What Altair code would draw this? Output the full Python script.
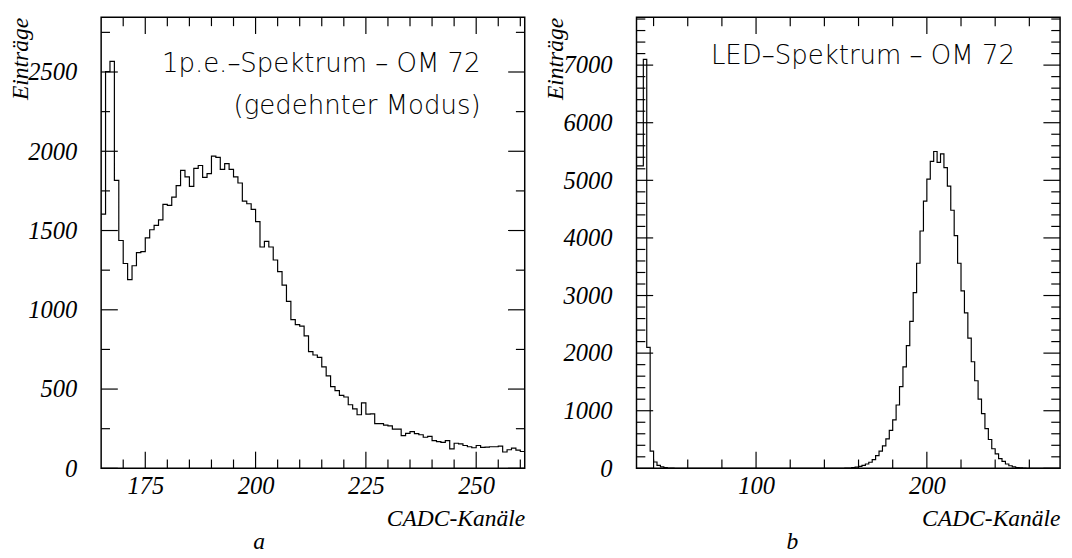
import altair as alt
import pandas as pd

# ---------------- data ----------------
left_start = 165
left_width = 1
left_counts = [1604, 2502, 2567, 1816, 1437, 1292, 1190, 1278, 1361, 1367,
               1454, 1505, 1533, 1567, 1665, 1659, 1711, 1783, 1880, 1839,
               1779, 1892, 1910, 1835, 1859, 1969, 1962, 1886, 1922, 1886,
               1839, 1800, 1685, 1669, 1634, 1556, 1396, 1432, 1396, 1314,
               1241, 1156, 1053, 938, 907, 897, 835, 736, 715, 700,
               640, 583, 515, 490, 460, 450, 401, 375, 338, 413,
               342, 344, 282, 282, 272, 268, 247, 247, 206, 221,
               231, 219, 212, 196, 202, 175, 168, 164, 175, 123,
               158, 154, 144, 136, 130, 144, 132, 134, 136, 136,
               140, 103, 117, 128, 115, 106]

right_start = 30
right_width = 2
right_counts = [5250, 5250, 7100, 2100, 300, 110, 50, 25, 12, 6, 3,
                0, 0, 0, 0, 0, 0, 0, 0, 0, 0,
                0, 0, 0, 0, 0, 0, 0, 0, 0, 0,
                0, 0, 0, 0, 0, 0, 0, 0, 0, 0,
                0, 0, 0, 0, 0, 0, 0, 0, 0, 0,
                0, 0, 0, 0, 0, 0, 0, 0, 0,
                2, 3, 6, 12, 22, 35, 50, 75, 105, 150,
                220, 300, 390, 510, 660, 840, 1100, 1420, 1760, 2130,
                2550, 3050, 3560, 4120, 4640, 5020, 5330, 5500, 5310, 5460,
                5220, 4900, 4480, 4040, 3560, 3080, 2700, 2260, 1850, 1520,
                1200, 950, 690, 500, 340, 250, 170, 120, 75, 45,
                25, 14, 7, 3, 1,
                0, 0, 0, 0, 0, 0, 0, 0, 0]

left_x_domain = [165, 261]
left_y_domain = [0, 2845]
right_x_domain = [30, 278]
right_y_domain = [0, 7830]

left_x_labels = [175, 200, 225, 250]
left_x_minor = [170, 180, 185, 190, 195, 205, 210, 215, 220, 230, 235, 240, 245, 255, 260]
left_y_labels = [0, 500, 1000, 1500, 2000, 2500]
left_y_minor = [250, 750, 1250, 1750, 2250, 2750]

right_x_labels = [100, 200]
right_x_minor = [40, 60, 80, 120, 140, 160, 180, 220, 240, 260]
right_y_labels = [0, 1000, 2000, 3000, 4000, 5000, 6000, 7000]
right_y_minor = [200, 400, 600, 800, 1200, 1400, 1600, 1800, 2200, 2400, 2600, 2800,
                 3200, 3400, 3600, 3800, 4200, 4400, 4600, 4800, 5200, 5400, 5600, 5800,
                 6200, 6400, 6600, 6800, 7200, 7400, 7600, 7800]

left_text = ["1p.e.\u2013Spektrum \u2013 OM 72", "(gedehnter Modus)"]
right_text = ["LED\u2013Spektrum \u2013 OM 72"]
x_title = "CADC-Kan\u00e4le"
y_title = "Eintr\u00e4ge"

# ---------------- layout ----------------
W, H = 432, 460
MAJ, MIN = 17, 9
SERIF = "Liberation Serif"
SANS = "DejaVu Sans"


def step_frame(start, width, counts):
    edges = [start + width * i for i in range(len(counts))] + [start + width * len(counts)]
    vals = list(counts) + [counts[-1]]
    return pd.DataFrame({"x": edges, "y": vals})


def panel(start, width, counts, xdom, ydom, xlab, xmin, ylab, ymin, lines, line_pos, letter, letter_x):
    xs = alt.Scale(domain=xdom, nice=False, zero=False)
    ys = alt.Scale(domain=ydom, nice=False, zero=False)
    ax_x = alt.Axis(
        values=xlab, title=x_title, ticks=False, tickSize=0, domain=False, grid=False,
        labelFont=SERIF, labelFontStyle="italic", labelFontSize=25, labelColor="black",
        labelPadding=6, labelFlush=False, labelOverlap=False, format="d",
        titleFont=SERIF, titleFontStyle="italic", titleFontWeight="normal", titleFontSize=24,
        titleColor="black", titleX=W, titleY=51, titleAlign="right", titleBaseline="middle")
    ax_y = alt.Axis(
        values=ylab, title=y_title, ticks=False, tickSize=0, domain=False, grid=False,
        labelFont=SERIF, labelFontStyle="italic", labelFontSize=25, labelColor="black",
        labelPadding=25, labelOverlap=False, labelFlush=False, format="d",
        titleFont=SERIF, titleFontStyle="italic", titleFontWeight="normal", titleFontSize=24,
        titleColor="black", titleX=-82, titleY=0, titleAngle=270, titleAlign="right",
        titleBaseline="middle")
    X = lambda: alt.X("x:Q", scale=xs, axis=ax_x, title=x_title)
    Y = lambda: alt.Y("y:Q", scale=ys, axis=ax_y, title=y_title)

    df = step_frame(start, width, counts)
    hist = alt.Chart(df).mark_line(interpolate="step-after", color="black", strokeWidth=1.2).encode(
        x=X(), y=Y())
    layers = [hist]
    for vals, L in [(xlab, MAJ), (xmin, MIN)]:
        d = pd.DataFrame({"x": vals})
        base = alt.Chart(d).mark_rule(color="black", strokeWidth=1.2)
        layers.append(base.encode(x=X(), y=alt.value(H), y2=alt.value(H - L)))
        layers.append(base.encode(x=X(), y=alt.value(0), y2=alt.value(L)))
    for vals, L in [(ylab, MAJ), (ymin, MIN)]:
        d = pd.DataFrame({"y": vals})
        base = alt.Chart(d).mark_rule(color="black", strokeWidth=1.2)
        layers.append(base.encode(y=Y(), x=alt.value(0), x2=alt.value(L)))
        layers.append(base.encode(y=Y(), x=alt.value(W), x2=alt.value(W - L)))
    for txt, (tx, ty) in zip(lines, line_pos):
        layers.append(alt.Chart(pd.DataFrame({"t": [txt]})).mark_text(
            font=SANS, fontSize=26.5, fontWeight=200, color="black", align="right", baseline="middle"
        ).encode(text="t:N", x=alt.value(tx), y=alt.value(ty)))
    layers.append(alt.Chart(pd.DataFrame({"t": [letter]})).mark_text(
        font=SERIF, fontSize=24, fontStyle="italic", color="black", align="center", baseline="middle"
    ).encode(text="t:N", x=alt.value(letter_x), y=alt.value(535)))
    return alt.layer(*layers).properties(width=W, height=H)


left = panel(left_start, left_width, left_counts, left_x_domain, left_y_domain,
             left_x_labels, left_x_minor, left_y_labels, left_y_minor,
             left_text, [(387, 48), (387, 91)], "a", 161)
right = panel(right_start, right_width, right_counts, right_x_domain, right_y_domain,
              right_x_labels, right_x_minor, right_y_labels, right_y_minor,
              right_text, [(386, 40)], "b", 159)

chart = alt.hconcat(left, right, spacing=15).properties(
    padding={"left": 0, "top": 2, "right": 0, "bottom": 0},
    background="white",
).configure_view(stroke="black", strokeWidth=1.5)

chart.save("out.html", embed_options={"renderer": "svg", "actions": False})
